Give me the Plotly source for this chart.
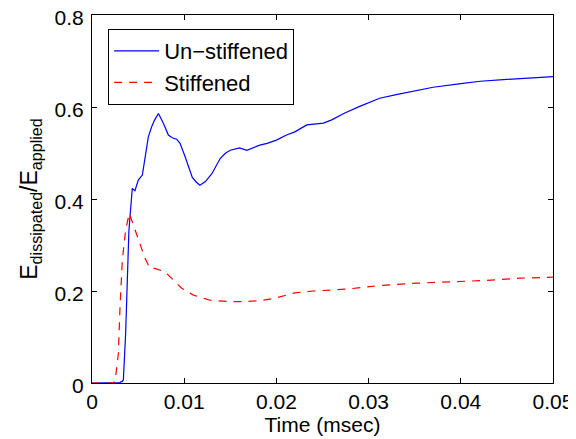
import plotly.graph_objects as go

# time in msec
t_unstiff = [0, 0.0025, 0.0030, 0.0033, 0.0034, 0.00365, 0.00387, 0.0040, 0.00412, 0.00437,
             0.00466, 0.00502, 0.00546, 0.00575, 0.00611, 0.00647, 0.0068, 0.0072, 0.00773,
             0.00828, 0.0087, 0.00918, 0.00955, 0.0101, 0.01088, 0.0113, 0.0117, 0.0123,
             0.0130, 0.0139, 0.0145, 0.015, 0.0155, 0.016, 0.0168, 0.0175, 0.0182, 0.019,
             0.020, 0.0211, 0.022, 0.0233, 0.0251, 0.026, 0.0273, 0.0291, 0.0312, 0.033,
             0.035, 0.037, 0.040, 0.0421, 0.045, 0.0475, 0.050]
e_unstiff = [0, 0, 0.001, 0.004, 0.0065, 0.108, 0.253, 0.33, 0.361, 0.423,
             0.418, 0.441, 0.452, 0.492, 0.535, 0.557, 0.572, 0.586, 0.565,
             0.539, 0.533, 0.530, 0.521, 0.492, 0.447, 0.437, 0.430, 0.438,
             0.455, 0.488, 0.500, 0.506, 0.509, 0.511, 0.506, 0.512, 0.517, 0.521,
             0.528, 0.539, 0.546, 0.561, 0.565, 0.572, 0.586, 0.602, 0.619, 0.627,
             0.635, 0.643, 0.651, 0.656, 0.660, 0.663, 0.666]

t_stiff = [0, 0.0022, 0.0025, 0.00286, 0.00304, 0.00329, 0.00365, 0.00394, 0.00405, 0.0043,
           0.00502, 0.00575, 0.0063, 0.00683, 0.0079, 0.0088, 0.00973, 0.011, 0.0128, 0.015,
           0.0168, 0.0186, 0.0198, 0.022, 0.024, 0.0276, 0.0312, 0.0352, 0.0388, 0.0428,
           0.0464, 0.050]
e_stiff = [0, 0, 0.003, 0.064, 0.166, 0.267, 0.333, 0.365, 0.369, 0.354,
           0.311, 0.271, 0.249, 0.249, 0.242, 0.225, 0.206, 0.191, 0.180, 0.177,
           0.177, 0.180, 0.184, 0.196, 0.200, 0.204, 0.212, 0.217, 0.220, 0.223,
           0.228, 0.230]

x_ticks = [0, 0.01, 0.02, 0.03, 0.04, 0.05]
x_labels = ['0', '0.01', '0.02', '0.03', '0.04', '0.05']
y_ticks = [0, 0.2, 0.4, 0.6, 0.8]
y_labels = ['0', '0.2', '0.4', '0.6', '0.8']

font = 'Liberation Sans, Arial, sans-serif'

fig = go.Figure()
fig.add_trace(go.Scatter(x=t_unstiff, y=e_unstiff, mode='lines', name='Un\u2212stiffened',
                         line=dict(color='#0000ff', width=1.2)))
fig.add_trace(go.Scatter(x=t_stiff, y=e_stiff, mode='lines', name='Stiffened',
                         line=dict(color='#ff0000', width=1.2, dash='8px,7px')))

axis_common = dict(showline=True, linecolor='black', linewidth=1, mirror='allticks',
                   ticks='inside', ticklen=5, tickcolor='black', showgrid=False,
                   zeroline=False, automargin=False, ticklabeloverflow='allow',
                   tickfont=dict(size=21, color='black', family=font))

fig.update_xaxes(range=[0, 0.05], tickvals=x_ticks, ticktext=x_labels, ticklabelstandoff=0,
                 title=dict(text='Time (msec)', font=dict(size=21, color='black', family=font),
                            standoff=2),
                 **axis_common)
fig.update_yaxes(range=[0, 0.8], tickvals=y_ticks, ticktext=y_labels, ticklabelstandoff=3,
                 ticklabelshift=3,
                 title=dict(text='E<sub>dissipated</sub>/E<sub>applied</sub>',
                            font=dict(size=23, color='black', family=font), standoff=10),
                 **axis_common)

# page body adds an 8px margin, so the figure is 8px smaller than the window
fig.update_layout(
    width=568, height=431,
    margin=dict(l=84, r=23, t=7, b=56),
    plot_bgcolor='white', paper_bgcolor='white',
    font=dict(family=font, color='black'),
    legend=dict(x=0.035, y=0.962, xanchor='left', yanchor='top',
                bgcolor='white', bordercolor='black', borderwidth=1,
                font=dict(size=22, family=font, color='black'),
                itemwidth=45),
    showlegend=True,
)

fig.write_html("out.html")
